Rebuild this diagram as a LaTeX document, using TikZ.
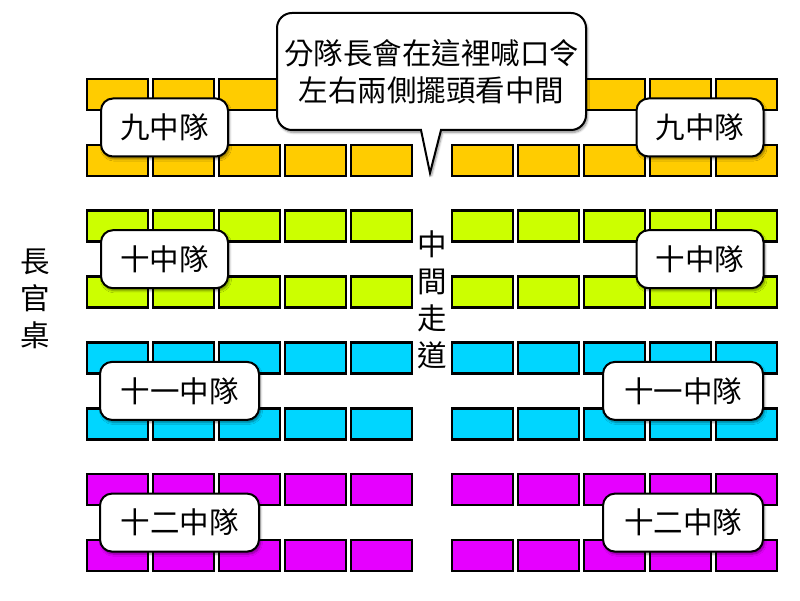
\documentclass[tikz,border=0pt]{standalone}
\usepackage{fontspec}
\setmainfont{Noto Sans CJK TC}
\usetikzlibrary{shadows.blur}
\definecolor{cgold}{RGB}{255,204,0}
\definecolor{clime}{RGB}{204,255,0}
\definecolor{ccyan}{RGB}{0,214,255}
\definecolor{cmag}{RGB}{230,0,255}
\begin{document}
\begin{tikzpicture}[x=1pt,y=1pt,
 brick/.style={draw=black, line width=2.5pt, minimum width=61pt, minimum height=31pt, inner sep=0pt, outer sep=0pt, anchor=north west},
 shad/.style={blur shadow={shadow xshift=1.5pt, shadow yshift=-2.5pt, shadow blur steps=6, shadow opacity=45}},
 lbl/.style={draw=black, line width=2pt, fill=white, rounded corners=12pt, minimum height=58pt, inner sep=0pt, font=\fontsize{29.5}{37}\selectfont, shad},
 txt/.style={font=\fontsize{29.5}{37}\selectfont, align=center, inner sep=0pt}]
\useasboundingbox (0,0) rectangle (800,600);
\foreach \g/\c in {0/cgold,1/clime,2/ccyan,3/cmag}{
  \foreach \r in {0,1}{
    \foreach \i in {0,...,4}{
      \node[brick, fill=\c] (L\g\r\i) at ({87+66*\i}, {521-131.7*\g-66*\r}) {};
      \node[brick, fill=\c] (R\g\r\i) at ({452+66*\i}, {521-131.7*\g-66*\r}) {};
    }}}
\node[lbl, minimum width=127pt] (l9) at (164.5,472.5) {九中隊};
\node[lbl, minimum width=127pt] (r9) at (700,472.5) {九中隊};
\node[lbl, minimum width=127pt] (l10) at (164.5,340.8) {十中隊};
\node[lbl, minimum width=127pt] (r10) at (700,340.8) {十中隊};
\node[lbl, minimum width=159pt] (l11) at (179.5,209.1) {十一中隊};
\node[lbl, minimum width=160pt] (r11) at (683,209.1) {十一中隊};
\node[lbl, minimum width=159pt] (l12) at (179.5,77.4) {十二中隊};
\node[lbl, minimum width=160pt] (r12) at (683,77.4) {十二中隊};
\draw[line width=2pt, fill=white, shad] (441,470) -- (571,470)
  arc[start angle=-90, end angle=0, radius=15] -- (586,572)
  arc[start angle=0, end angle=90, radius=15] -- (292,587)
  arc[start angle=90, end angle=180, radius=15] -- (277,485)
  arc[start angle=180, end angle=270, radius=15] -- (421,470) -- (430,427) -- cycle;
\node[txt] (call) at (431.5,528.5) {分隊長會在這裡喊口令\\左右兩側擺頭看中間};
\node[txt] (desk) at (35,301) {長\\官\\桌};
\node[txt] (aisle) at (432,300.5) {中\\間\\走\\道};
\end{tikzpicture}
\end{document}
